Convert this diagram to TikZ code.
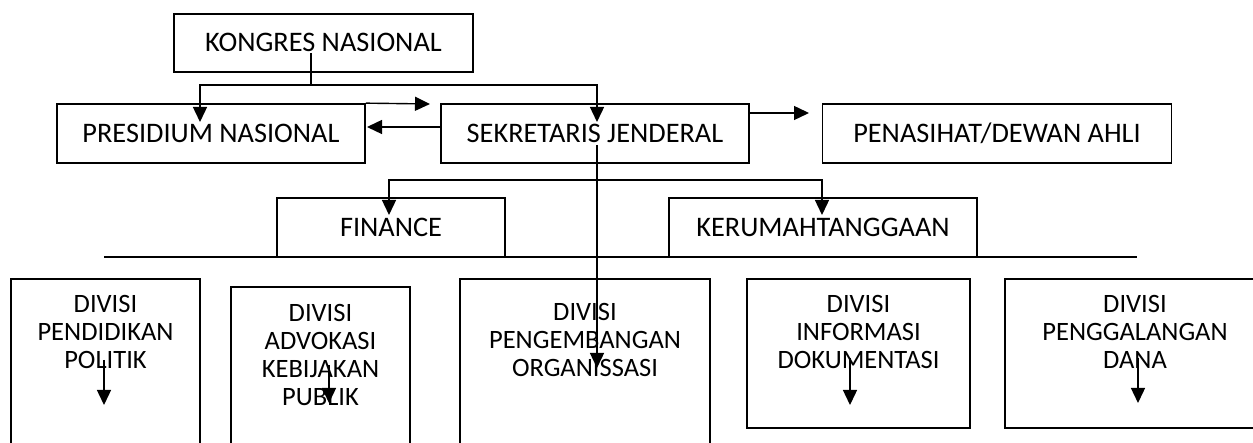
\documentclass[tikz,border=0pt]{standalone}
\usepackage{fontspec}
\setmainfont{Carlito}
\usetikzlibrary{arrows.meta}
\tikzset{
  box/.style={draw, line width=1.7pt, inner sep=0pt, text height=18pt, text depth=0pt, font=\fontsize{28.3}{30}\selectfont},
  dbox/.style={draw, line width=1.7pt, inner sep=0pt},
  dtext/.style={anchor=base, inner sep=0pt, font=\fontsize{26.5}{28}\selectfont},
  conn/.style={line width=1.4pt},
  arr/.style={line width=1.4pt, -{Triangle[length=15pt,width=14pt]}}
}
\begin{document}
\begin{tikzpicture}[x=1pt,y=-1pt]
\useasboundingbox (0,0) rectangle (1253,443);
% top boxes
\node[box, minimum width=299pt, minimum height=58pt] (kn) at (323.5,43) {KONGRES NASIONAL};
\node[box, minimum width=308pt, minimum height=59pt] (pn) at (211,133.5) {PRESIDIUM NASIONAL};
\node[box, minimum width=308pt, minimum height=59pt] (sj) at (595,133.5) {SEKRETARIS JENDERAL};
\node[box, minimum width=349pt, minimum height=59pt] (pd) at (997,133.5) {PENASIHAT/DEWAN AHLI};
\node[box, minimum width=228pt, minimum height=59pt] (fin) at (391,227.5) {FINANCE};
\node[box, minimum width=308pt, minimum height=59pt] (ker) at (823,227.5) {KERUMAHTANGGAAN};
% division boxes
\node[dbox, minimum width=189pt, minimum height=181pt] (d1) at (105.5,369.5) {};
\node[dbox, minimum width=179pt, minimum height=173pt] (d2) at (320.5,373.5) {};
\node[dbox, minimum width=250pt, minimum height=181pt] (d3) at (585,369.5) {};
\node[dbox, minimum width=223pt, minimum height=149pt] (d4) at (858.5,353.5) {};
\node[dbox, minimum width=260pt, minimum height=149pt] (d5) at (1135,353.5) {};
% division texts
\node[dtext] (t1a) at (105.5,313) {DIVISI};
\node[dtext] (t1b) at (105.5,341) {PENDIDIKAN};
\node[dtext] (t1c) at (105.5,369) {POLITIK};
\node[dtext] (t2a) at (320.5,322) {DIVISI};
\node[dtext] (t2b) at (320.5,350) {ADVOKASI};
\node[dtext] (t2c) at (320.5,378) {KEBIJAKAN};
\node[dtext] (t2d) at (320.5,406) {PUBLIK};
\node[dtext] (t3a) at (585,321) {DIVISI};
\node[dtext] (t3b) at (585,349) {PENGEMBANGAN};
\node[dtext] (t3c) at (585,377) {ORGANISSASI};
\node[dtext] (t4a) at (858.5,313) {DIVISI};
\node[dtext] (t4b) at (858.5,341) {INFORMASI};
\node[dtext] (t4c) at (858.5,369) {DOKUMENTASI};
\node[dtext] (t5a) at (1135,313) {DIVISI};
\node[dtext] (t5b) at (1135,341) {PENGGALANGAN};
\node[dtext] (t5c) at (1135,369) {DANA};
% connector points
\coordinate (kA) at (311,53);
\coordinate (kB) at (311,85);
\coordinate (pnT) at (200,122);
\coordinate (sjT) at (597,122);
\coordinate (prA) at (430,104);
\coordinate (lfA) at (441,127);
\coordinate (lfB) at (367,127);
\coordinate (spA) at (749,113);
\coordinate (spB) at (809,113);
\coordinate (sjV) at (597,145);
\coordinate (brC) at (597,180);
\coordinate (finT) at (389,215);
\coordinate (kerT) at (822,215);
\coordinate (orgT) at (597,368);
\coordinate (hL) at (104,257);
\coordinate (hR) at (1137,257);
\coordinate (a1s) at (104,360);
\coordinate (a1e) at (104,405);
\coordinate (a2s) at (329,365);
\coordinate (a2e) at (329,403);
\coordinate (a4s) at (850,358);
\coordinate (a4e) at (850,405);
\coordinate (a5s) at (1138,358);
\coordinate (a5e) at (1138,403);
% connectors
\draw[conn] (kA) -- (kB);
\draw[arr] (kB) -| (pnT);
\draw[arr] (kB) -| (sjT);
\draw[arr] (pn.north east) -- (prA);
\draw[arr] (lfA) -- (lfB);
\draw[arr] (spA) -- (spB);
\draw[arr] (sjV) -- (orgT);
\draw[arr] (brC) -| (finT);
\draw[arr] (brC) -| (kerT);
\draw[conn] (hL) -- (hR);
\draw[arr] (a1s) -- (a1e);
\draw[arr] (a2s) -- (a2e);
\draw[arr] (a4s) -- (a4e);
\draw[arr] (a5s) -- (a5e);
\end{tikzpicture}
\end{document}
